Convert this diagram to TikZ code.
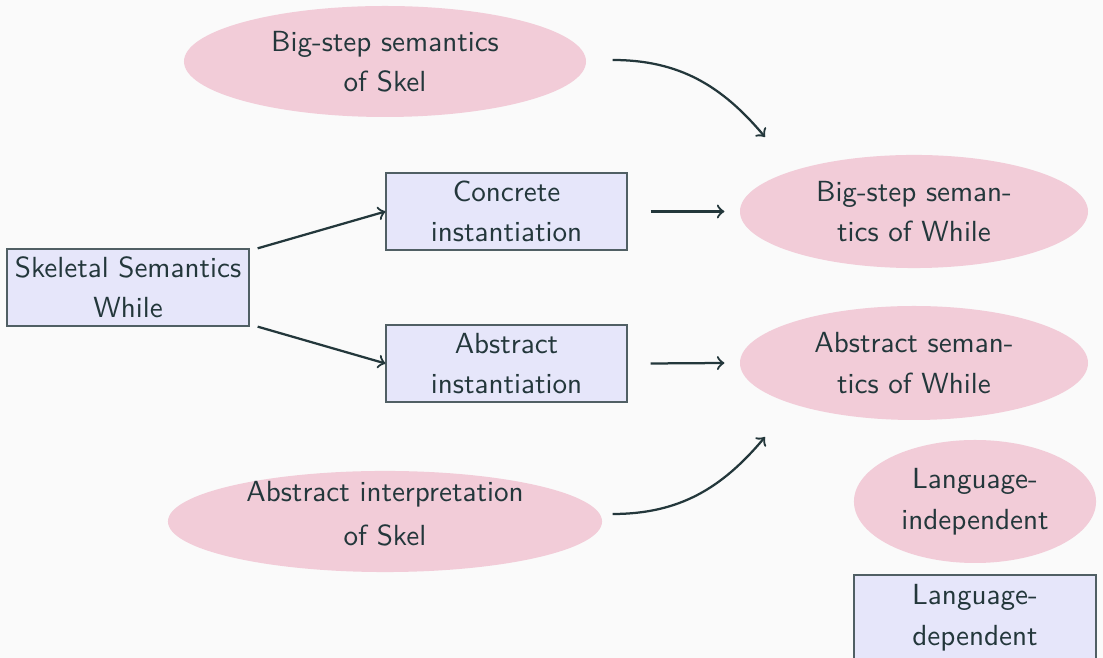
\documentclass[tikz,border=0pt]{standalone}
\usetikzlibrary{shapes.geometric}
\definecolor{bgc}{RGB}{250,250,250}
\definecolor{fgc}{RGB}{35,55,59}
\definecolor{pinkf}{RGB}{242,204,216}
\definecolor{lavf}{RGB}{230,230,250}
\definecolor{bordc}{RGB}{80,95,100}
\tikzset{
  txt/.style={font=\sffamily\fontsize{9.7}{13.5}\selectfont, text=fgc, align=center, inner sep=0pt},
  indep/.style={txt, ellipse, fill=pinkf},
  dep/.style={txt, rectangle, fill=lavf, draw=bordc, line width=0.4pt},
  arr/.style={->, draw=fgc, line width=0.75pt}
}
\begin{document}
\begin{tikzpicture}[x=0.33333pt,y=0.33333pt]
\useasboundingbox (0,0) rectangle (1103,658);
\fill[bgc] (0,0) rectangle (1103,658);
% language-independent (ellipses)
\node[indep, minimum width=134pt, minimum height=37pt] (bs) at (385,596.5) {Big-step semantics\\of Skel};
\node[indep, minimum width=116pt, minimum height=37.7pt] (bw) at (914,446.5) {Big-step seman-\\tics of While};
\node[indep, minimum width=116pt, minimum height=38pt] (aw) at (914,295) {Abstract seman-\\tics of While};
\node[indep, minimum width=144.7pt, minimum height=33.7pt] (ai) at (385,136.5)
  {\raisebox{-0.5pt}[0pt][0pt]{\begin{tabular}{@{}c@{}}Abstract interpretation\\[1pt]of Skel\end{tabular}}};
\node[indep, minimum width=80.7pt, minimum height=41pt] (li) at (975,156.5) {Language-\\independent};
% language-dependent (boxes)
\node[dep, minimum width=80.7pt, minimum height=25.7pt] (sk) at (128,370.5) {Skeletal Semantics\\While};
\node[dep, minimum width=80.3pt, minimum height=25.7pt] (c) at (506.5,446.5) {Concrete\\instantiation};
\node[dep, minimum width=80.3pt, minimum height=25.7pt] (a) at (506.5,294.5) {Abstract\\instantiation};
\node[dep, minimum width=80.7pt, minimum height=28.3pt] (ld) at (975,40.5) {Language-\\dependent};
% free ends
\coordinate (p1) at (765,521);
\coordinate (p2) at (765,221);
% connectors
\draw[arr] ([shift={(8,0)}]sk.north east) -- (c.west);
\draw[arr] ([shift={(8,0)}]sk.south east) -- (a.west);
\draw[arr] ([shift={(23,0)}]c.east) -- ([shift={(-15,0)}]bw.west);
\draw[arr] ([shift={(23,0)}]a.east) -- ([shift={(-15,0)}]aw.west);
\draw[arr] ([shift={(26,1.5)}]bs.east) to[out=0,in=130] (p1);
\draw[arr] ([shift={(10,7.5)}]ai.east) to[out=0,in=-130] (p2);
\end{tikzpicture}
\end{document}
